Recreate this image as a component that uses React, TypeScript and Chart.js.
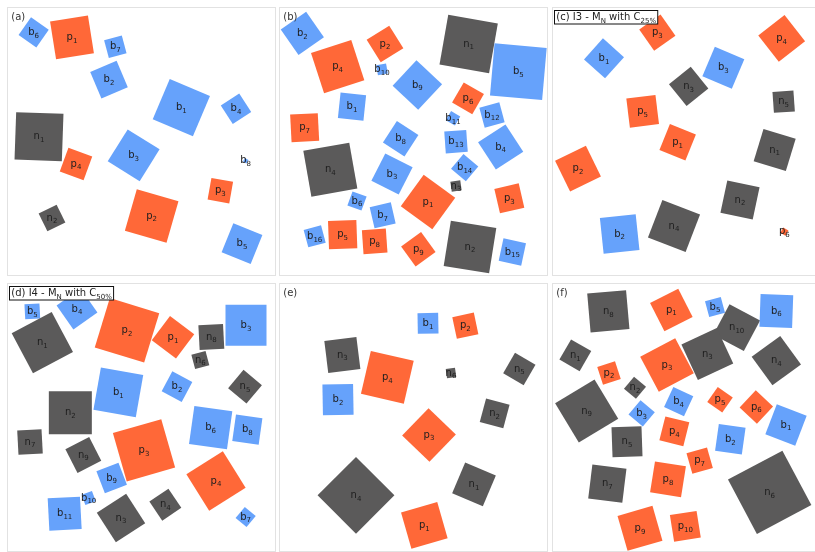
import React, { useEffect, useRef } from 'react';
import { Chart, registerables } from 'chart.js';

Chart.register(...registerables);

// Each square: [label, x, y, side, rotation (deg, clockwise)]
type Sq = [string, number, number, number, number];
type Seg = [string, boolean];

const squaresA: Sq[] = [
  ['b6', 101, 97, 65, 35],
  ['p1', 216, 112, 115, -9],
  ['b7', 346, 140, 55, -15],
  ['b2', 327, 239, 86, -23],
  ['b1', 544, 323, 131, 23],
  ['b4', 708, 326, 66, -33],
  ['n1', 117, 410, 142, 2],
  ['b3', 401, 466, 113, 32],
  ['p4', 228, 492, 76, 20],
  ['b8', 737, 482, 12, 30],
  ['p3', 661, 572, 66, 10],
  ['n2', 156, 654, 60, -26],
  ['p2', 455, 648, 130, 16],
  ['b5', 726, 731, 94, 22],
];

const squaresB: Sq[] = [
  ['b2', 91, 100, 93, -35],
  ['p4', 197, 200, 127, -18],
  ['p2', 339, 132, 80, -32],
  ['b10', 330, 208, 30, -10],
  ['n1', 590, 132, 151, 10],
  ['b5', 739, 215, 157, 5],
  ['b9', 436, 255, 105, 43],
  ['b1', 240, 320, 77, 6],
  ['p6', 588, 295, 70, 30],
  ['p7', 98, 383, 83, -3],
  ['b11', 543, 355, 32, 30],
  ['b12', 660, 345, 62, -15],
  ['b13', 552, 425, 66, -4],
  ['b8', 386, 416, 77, 33],
  ['b4', 686, 441, 98, -33],
  ['n4', 175, 509, 140, -10],
  ['b3', 360, 522, 92, 27],
  ['b14', 578, 503, 58, 40],
  ['n3', 552, 558, 30, -8],
  ['p1', 468, 606, 117, 36],
  ['p3', 712, 595, 75, -13],
  ['b6', 255, 603, 45, 20],
  ['b7', 332, 646, 65, -13],
  ['b16', 128, 709, 54, -15],
  ['p5', 212, 704, 85, -2],
  ['p8', 308, 724, 72, -4],
  ['p9', 439, 748, 74, -36],
  ['n2', 594, 741, 138, 9],
  ['b15', 721, 756, 69, 12],
];

const squaresC: Sq[] = [
  ['p3', 337, 98, 78, -35],
  ['p4', 710, 115, 100, -38],
  ['b1', 177, 175, 85, 42],
  ['b3', 535, 203, 96, 23],
  ['n3', 431, 259, 84, -39],
  ['n5', 716, 305, 63, -4],
  ['p5', 293, 334, 88, -7],
  ['p1', 398, 427, 84, 22],
  ['n1', 689, 450, 101, 17],
  ['p2', 99, 506, 103, -26],
  ['n2', 585, 600, 99, 12],
  ['n4', 387, 678, 121, 21],
  ['b2', 224, 702, 108, -6],
  ['p6', 718, 695, 18, 30],
];

const squaresD: Sq[] = [
  ['b5', 97, 118, 45, -3],
  ['b4', 231, 111, 88, -35],
  ['n1', 127, 212, 136, -28],
  ['p2', 381, 175, 155, 17],
  ['p1', 519, 196, 91, 37],
  ['n8', 634, 195, 74, -3],
  ['b3', 738, 160, 123, 0],
  ['n6', 601, 264, 44, -15],
  ['b2', 531, 344, 68, 28],
  ['n5', 735, 344, 72, 40],
  ['b1', 355, 361, 129, 10],
  ['n2', 211, 422, 129, 0],
  ['b6', 632, 467, 115, 8],
  ['b8', 742, 473, 80, 8],
  ['n7', 90, 510, 73, -3],
  ['n9', 250, 549, 80, -27],
  ['p3', 432, 535, 151, -16],
  ['p4', 648, 627, 129, -32],
  ['b9', 335, 618, 71, -21],
  ['b10', 266, 678, 33, -20],
  ['b11', 194, 725, 97, -3],
  ['n3', 363, 738, 105, -33],
  ['n4', 496, 698, 69, -34],
  ['b7', 737, 735, 43, 40],
];

const squaresE: Sq[] = [
  ['b1', 468, 154, 62, -1],
  ['p2', 580, 161, 66, -12],
  ['n3', 211, 249, 97, -7],
  ['p4', 346, 316, 132, 13],
  ['n6', 537, 303, 28, -8],
  ['n5', 742, 291, 71, 30],
  ['b2', 198, 383, 92, -1],
  ['n2', 668, 424, 73, 15],
  ['p3', 471, 489, 114, 44],
  ['n4', 252, 670, 163, 45],
  ['n1', 606, 637, 100, 23],
  ['p1', 457, 760, 113, -16],
];

const squaresF: Sq[] = [
  ['n8', 190, 118, 117, -5],
  ['p1', 379, 114, 95, -27],
  ['b5', 510, 105, 49, -15],
  ['n10', 575, 167, 104, 28],
  ['b6', 694, 117, 98, 2],
  ['n1', 91, 250, 70, 30],
  ['n3', 487, 246, 117, -25],
  ['p3', 366, 279, 119, -28],
  ['n4', 694, 266, 106, -36],
  ['p2', 192, 303, 56, -18],
  ['n2', 270, 347, 47, 40],
  ['n9', 125, 417, 138, -31],
  ['b4', 401, 389, 66, 25],
  ['p5', 525, 383, 55, 35],
  ['p6', 634, 405, 71, 43],
  ['b3', 290, 424, 56, 40],
  ['b1', 723, 459, 96, 21],
  ['p4', 388, 478, 74, 14],
  ['n5', 246, 509, 90, -2],
  ['b2', 556, 502, 81, 8],
  ['p7', 464, 566, 64, -16],
  ['n7', 187, 635, 103, 7],
  ['p8', 369, 622, 94, 9],
  ['n6', 674, 661, 185, -28],
  ['p9', 285, 769, 109, -16],
  ['p10', 421, 763, 81, -9],
];

const titleA: Seg[] = [['(a)', false]];
const titleB: Seg[] = [['(b)', false]];
const titleC: Seg[] = [['(c) I3 - M', false], ['N', true], [' with C', false], ['25%', true]];
const titleD: Seg[] = [['(d) I4 - M', false], ['N', true], [' with C', false], ['50%', true]];
const titleE: Seg[] = [['(e)', false]];
const titleF: Seg[] = [['(f)', false]];

const COLORS: Record<string, string> = {
  n: '#5b5a5a',
  p: '#ff6838',
  b: '#66a2fb',
};

const FONT = '"DejaVu Sans", sans-serif';
const PANEL = 269;

interface PanelDef {
  squares: Sq[];
  title: Seg[];
  boxed: boolean;
  left: number;
  top: number;
  yMin: number;
}

const panels: PanelDef[] = [
  { squares: squaresA, title: titleA, boxed: false, left: 7, top: 7, yMin: 21 },
  { squares: squaresB, title: titleB, boxed: false, left: 279, top: 7, yMin: 21 },
  { squares: squaresC, title: titleC, boxed: true, left: 552, top: 7, yMin: 21 },
  { squares: squaresD, title: titleD, boxed: true, left: 7, top: 283, yMin: 33 },
  { squares: squaresE, title: titleE, boxed: false, left: 279, top: 283, yMin: 33 },
  { squares: squaresF, title: titleF, boxed: false, left: 552, top: 283, yMin: 33 },
];

function drawSegments(ctx: CanvasRenderingContext2D, segs: Seg[], x: number, y: number, main: number, sub: number, drop: number) {
  let cx = x;
  for (const [t, isSub] of segs) {
    ctx.font = `${isSub ? sub : main}px ${FONT}`;
    ctx.fillText(t, cx, isSub ? y + drop : y);
    cx += ctx.measureText(t).width;
  }
  return cx - x;
}

function measureSegments(ctx: CanvasRenderingContext2D, segs: Seg[], main: number, sub: number) {
  let w = 0;
  for (const [t, isSub] of segs) {
    ctx.font = `${isSub ? sub : main}px ${FONT}`;
    w += ctx.measureText(t).width;
  }
  return w;
}

function Panel({ def }: { def: PanelDef }) {
  const ref = useRef<HTMLCanvasElement>(null);
  useEffect(() => {
    const sq = def.squares;
    const radius = (c: any) => {
      const sc = c.chart.scales.x;
      const s = sq[c.dataIndex][3];
      return Math.abs(sc.getPixelForValue(s) - sc.getPixelForValue(0)) / Math.SQRT2;
    };
    const deco = {
      id: 'deco',
      beforeDraw(chart: any) {
        const ctx = chart.ctx as CanvasRenderingContext2D;
        ctx.save();
        ctx.fillStyle = '#ffffff';
        ctx.fillRect(0, 0, chart.width, chart.height);
        ctx.restore();
      },
      afterDatasetsDraw(chart: any) {
        const ctx = chart.ctx as CanvasRenderingContext2D;
        const meta = chart.getDatasetMeta(0);
        ctx.save();
        ctx.textAlign = 'left';
        ctx.textBaseline = 'alphabetic';
        ctx.fillStyle = '#1e1e1e';
        meta.data.forEach((el: any, i: number) => {
          const lab = sq[i][0];
          const segs: Seg[] = [[lab[0], false], [lab.slice(1), true]];
          const w = measureSegments(ctx, segs, 10, 7);
          drawSegments(ctx, segs, el.x - w / 2, el.y + 2.5, 10, 7, 2.7);
        });
        // border
        ctx.strokeStyle = '#e2e2e2';
        ctx.lineWidth = 1;
        ctx.strokeRect(0.5, 0.5, chart.width - 1, chart.height - 1);
        // title
        const tw = measureSegments(ctx, def.title, 10, 7);
        if (def.boxed) {
          ctx.fillStyle = '#ffffff';
          ctx.fillRect(2.5, 3.5, tw + 3.5, 13.5);
          ctx.strokeStyle = '#111111';
          ctx.strokeRect(2.5, 3.5, tw + 3.5, 13.5);
          ctx.fillStyle = '#222222';
        } else {
          ctx.fillStyle = '#333333';
        }
        drawSegments(ctx, def.title, 4.3, 13.3, 10, 7, 2.5);
        ctx.restore();
      },
    };
    const chart = new Chart(ref.current!, {
      type: 'scatter',
      data: {
        datasets: [
          {
            data: sq.map((s) => ({ x: s[1], y: s[2] })),
            pointStyle: 'rect',
            pointRotation: (c: any) => sq[c.dataIndex][4],
            pointRadius: radius,
            pointHoverRadius: radius,
            pointBackgroundColor: (c: any) => COLORS[sq[c.dataIndex][0][0]],
            pointBorderWidth: 0,
            borderWidth: 0,
            showLine: false,
            clip: false as any,
          } as any,
        ],
      },
      options: {
        animation: false,
        responsive: false,
        events: [],
        layout: { padding: 0 },
        scales: {
          x: { type: 'linear', min: 21, max: 21 + PANEL * 3, display: false },
          y: { type: 'linear', min: def.yMin, max: def.yMin + PANEL * 3, reverse: true, display: false },
        },
        plugins: { legend: { display: false }, tooltip: { enabled: false } },
      },
      plugins: [deco],
    });
    return () => chart.destroy();
  }, [def]);
  return (
    <canvas
      ref={ref}
      width={PANEL}
      height={PANEL}
      style={{ position: 'absolute', left: def.left, top: def.top, width: PANEL, height: PANEL }}
    />
  );
}

export default function App() {
  return (
    <div style={{ position: 'fixed', left: 0, top: 0, width: 815, height: 552, overflow: 'hidden', background: '#ffffff' }}>
      {panels.map((p, i) => (
        <Panel key={i} def={p} />
      ))}
    </div>
  );
}
